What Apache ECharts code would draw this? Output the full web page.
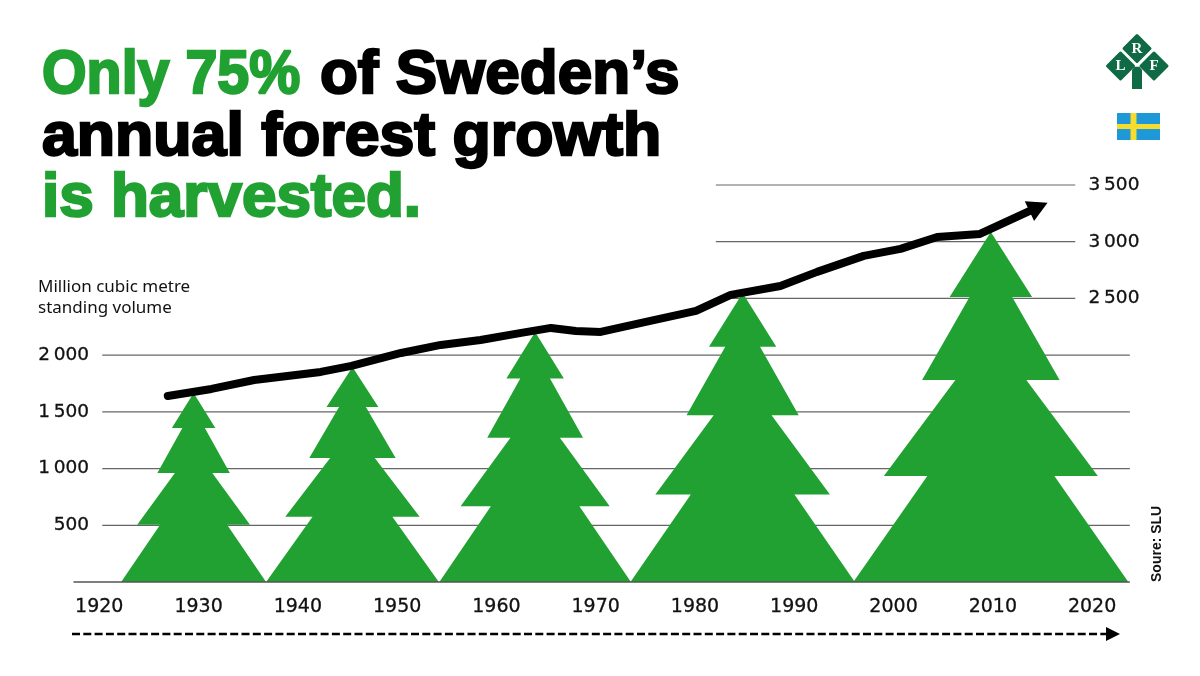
<!DOCTYPE html>
<html>
<head>
<meta charset="utf-8">
<style>html,body{margin:0;padding:0;background:#fff}#chart{width:1200px;height:676px}</style>
<script src="https://cdn.jsdelivr.net/npm/echarts@6/dist/echarts.min.js"></script>
</head>
<body>
<div id="chart"></div>
<script>
// x axis labels
var yearTicks = [1920, 1930, 1940, 1950, 1960, 1970, 1980, 1990, 2000, 2010, 2020];
// y axis labels, left and right side
var lowerTicks = [500, 1000, 1500, 2000];
var upperTicks = [2500, 3000, 3500];

// standing volume [year, million m3]
var volumeYears = [1926.9, 1931.3, 1935.6, 1942.3, 1945.4, 1950.4, 1954.4, 1958.4, 1962.5, 1965.5, 1968, 1970.5, 1975.5, 1980.1, 1983.6, 1988.6, 1992.3, 1997, 2000.7, 2004.4, 2008.7, 2014.6];
var volumeValues = [1640, 1702, 1781, 1852, 1905, 2019, 2090, 2134, 2196, 2240, 2213, 2205, 2302, 2390, 2531, 2610, 2734, 2875, 2937, 3042, 3069, 3307];

// the five trees
var treeYears = [1929.5, 1945.5, 1963.9, 1984.8, 2009.8];
var treeHeights = [1667, 1896, 2205, 2548, 3086];
var treeWidths = [14.6, 17.4, 19.3, 22.6, 27.7];
// one half of a tree: [part of half width, part of height]
var treeProfile = [[1, 0], [0.462, 0.303], [0.778, 0.303], [0.258, 0.577], [0.5, 0.577], [0.155, 0.814], [0.3, 0.814], [0, 1]];

// where the rules start and stop, in years
var lowerRule = [1920.3, 2023.8];
var upperRule = [1982.1, 2018.3];
var baseRule = [1917.4, 2023.8];

var GREEN = '#21a131';
var RULE = '#666666';
var TICK_FONT = 'DejaVu Sans';
var TITLE_FONT = '"Liberation Sans"';

function thinSpace(v) {
  var s = String(v);
  return s.length > 3 ? s.charAt(0) + '\u2009' + s.slice(1) : s;
}

function ruleSeries(range, value, color, width) {
  return {
    type: 'line',
    silent: true,
    symbol: 'none',
    clip: false,
    z: 1,
    lineStyle: { color: color, width: width },
    data: [[range[0], value], [range[1], value]]
  };
}

function renderTree(params, api) {
  var year = api.value(0);
  var height = api.value(1);
  var half = api.value(2) / 2;
  var pts = [];
  treeProfile.forEach(function (p) {
    pts.push(api.coord([year - half * p[0], height * p[1]]));
  });
  treeProfile.slice(0, -1).reverse().forEach(function (p) {
    pts.push(api.coord([year + half * p[0], height * p[1]]));
  });
  return { type: 'polygon', shape: { points: pts }, style: { fill: GREEN } };
}

var series = [];
lowerTicks.forEach(function (v) { series.push(ruleSeries(lowerRule, v, RULE, 1.2)); });
upperTicks.forEach(function (v) { series.push(ruleSeries(upperRule, v, RULE, 1.2)); });
series.push({
  type: 'custom',
  silent: true,
  z: 2,
  clip: false,
  renderItem: renderTree,
  data: treeYears.map(function (y, i) { return [y, treeHeights[i], treeWidths[i]]; })
});
var baseline = ruleSeries(baseRule, 0, '#555555', 1.6);
baseline.z = 3;
series.push(baseline);
series.push({
  type: 'line',
  silent: true,
  z: 4,
  showSymbol: true,
  symbol: 'none',
  clip: false,
  lineStyle: { color: '#000', width: 8, cap: 'round', join: 'round' },
  data: volumeYears.map(function (y, i) {
    var item = { value: [y, volumeValues[i]] };
    if (i === volumeYears.length - 1) {
      // arrow head sits on the last point
      item.symbol = 'triangle';
      item.symbolSize = [22, 20];
      item.symbolRotate = -65;
      item.itemStyle = { color: '#000' };
    }
    return item;
  })
});

function titleText(text, x, y, color, scaleX) {
  return {
    type: 'text',
    x: x,
    y: y,
    scaleX: scaleX || 1,
    silent: true,
    style: {
      text: text,
      fill: color,
      stroke: color,
      lineWidth: 2.4,
      lineJoin: 'miter',
      miterLimit: 3,
      font: 'bold 62px ' + TITLE_FONT,
      textVerticalAlign: 'bottom'
    }
  };
}

function note(text, x, y, font, rotation) {
  return {
    type: 'text',
    x: x,
    y: y,
    rotation: rotation || 0,
    silent: true,
    style: { text: text, fill: '#111', font: font }
  };
}

// LRF mark
var LOGO = '#0f6a45';
function logoDiamond(cx, cy) {
  return {
    type: 'polygon',
    shape: { points: [[cx, cy - 13], [cx + 13, cy], [cx, cy + 13], [cx - 13, cy]] },
    style: { fill: LOGO, stroke: LOGO, lineWidth: 3, lineJoin: 'round' }
  };
}
function logoLetter(text, cx, cy) {
  return {
    type: 'text',
    x: cx,
    y: cy,
    style: { text: text, fill: '#fff', font: 'bold 15px "Liberation Serif"', textAlign: 'center', textVerticalAlign: 'middle' }
  };
}
var logoParts = [
  { type: 'polygon', shape: { points: [[1134.5, 66.7], [1139.5, 66.7], [1142, 70], [1142, 89], [1132, 89], [1132, 70]] }, style: { fill: LOGO } },
  logoDiamond(1137, 48.5),
  logoDiamond(1120.5, 66),
  logoDiamond(1154, 66),
  logoLetter('R', 1137, 49),
  logoLetter('L', 1120.5, 66),
  logoLetter('F', 1154, 66)
];

// Swedish flag
var flagParts = [
  { type: 'rect', shape: { x: 1117, y: 113, width: 43, height: 27 }, style: { fill: '#1f98d8' } },
  { type: 'rect', shape: { x: 1130.5, y: 113, width: 6, height: 27 }, style: { fill: '#f6dc2c' } },
  { type: 'rect', shape: { x: 1117, y: 124, width: 43, height: 5 }, style: { fill: '#f6dc2c' } }
];

var option = {
  backgroundColor: '#ffffff',
  animation: false,
  grid: { left: -1.4, right: 8.6, top: 185, bottom: 94 },
  xAxis: {
    type: 'value',
    min: 1910,
    max: 2030,
    interval: 10,
    splitLine: { show: false },
    axisLine: { show: false },
    axisTick: { show: false },
    axisLabel: {
      customValues: yearTicks,
      margin: 16,
      color: '#111',
      fontFamily: TICK_FONT,
      fontSize: 19,
      textBorderColor: '#111',
      textBorderWidth: 0.3,
      formatter: function (v) { return String(v); }
    }
  },
  yAxis: [
    {
      type: 'value',
      min: 0,
      max: 3500,
      interval: 500,
      splitLine: { show: false },
      axisLine: { show: false },
      axisTick: { show: false },
      axisLabel: {
        customValues: lowerTicks,
        inside: true,
        align: 'right',
        margin: 89,
        padding: [3, 0, 0, 0],
        color: '#111',
        fontFamily: TICK_FONT,
        fontSize: 18.5,
        textBorderColor: '#111',
        textBorderWidth: 0.3,
        formatter: thinSpace
      }
    },
    {
      type: 'value',
      position: 'right',
      min: 0,
      max: 3500,
      interval: 500,
      splitLine: { show: false },
      axisLine: { show: false },
      axisTick: { show: false },
      axisLabel: {
        customValues: upperTicks,
        inside: true,
        align: 'right',
        margin: 52,
        color: '#111',
        fontFamily: TICK_FONT,
        fontSize: 18.5,
        textBorderColor: '#111',
        textBorderWidth: 0.3,
        formatter: thinSpace
      }
    }
  ],
  series: series,
  graphic: [
    titleText('Only 75%', 42, 107, GREEN, 0.925),
    titleText('of Sweden\u2019s', 320, 107, '#000'),
    titleText('annual forest growth', 42, 168.5, '#000', 1.01),
    titleText('is harvested.', 42, 230, GREEN),
    note('Million cubic metre', 38, 279, '17px "Noto Sans"'),
    note('standing volume', 38, 299.5, '17px "Noto Sans"'),
    note('Soure: SLU', 1150, 582, 'bold 14px "Liberation Sans"', Math.PI / 2),
    // dashed time arrow under the axis
    { type: 'line', silent: true, shape: { x1: 72, y1: 634, x2: 1107, y2: 634 }, style: { stroke: '#000', lineWidth: 2.4, lineDash: [8, 3.3] } },
    { type: 'polygon', silent: true, shape: { points: [[1106, 627], [1120, 634], [1106, 641]] }, style: { fill: '#000' } }
  ].concat(logoParts, flagParts)
};

var chart = echarts.init(document.getElementById('chart'));
chart.setOption(option);
</script>
</body>
</html>
